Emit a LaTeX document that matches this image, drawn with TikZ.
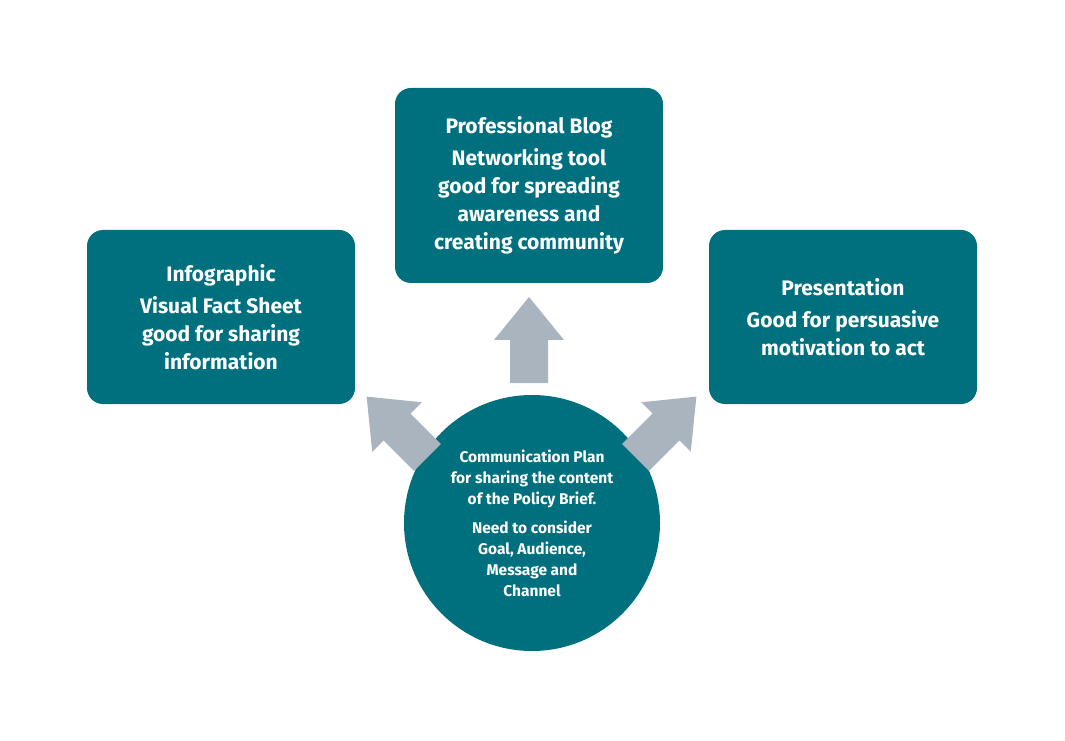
\documentclass[tikz,border=0pt]{standalone}
\usepackage{fontspec}
\setmainfont{Fira Sans}
\definecolor{teal}{HTML}{00707F}
\definecolor{arrgray}{HTML}{A9B4BE}
\begin{document}
\begin{tikzpicture}[x=1pt,y=1pt,
  box/.style={fill=teal,rounded corners=16pt,minimum width=268pt,text=white,font=\bfseries\fontsize{21}{28}\selectfont,align=center,inner sep=0pt},
  arr/.pic={\fill[arrgray] (-19,-43)--(19,-43)--(19,0)--(35,0)--(0,43)--(-35,0)--(-19,0)--cycle;}]
\useasboundingbox (0,0) rectangle (1065,740);
\node[box,minimum height=195pt] (blog) at (529,554.5) {Professional Blog\\[4pt]Networking tool\\good for spreading\\awareness and\\creating community};
\node[box,minimum height=174pt] (info) at (221,423) {Infographic\\[4pt]Visual Fact Sheet\\good for sharing\\information};
\node[box,minimum height=174pt] (pres) at (843,423) {Presentation\\[4pt]Good for persuasive\\motivation to act};
\node[circle,fill=teal,minimum size=256pt,text=white,align=center,inner sep=0pt,font=\bfseries\fontsize{15.5}{21}\selectfont] (plan) at (532,217) {Communication Plan\\for sharing the content\\of the Policy Brief.\\[8pt]Need to consider\\Goal, Audience,\\Message and\\Channel};
\pic at (529,400) {arr};
\pic[rotate=45] at (397,313) {arr};
\pic[rotate=-45] at (666,313) {arr};
\end{tikzpicture}
\end{document}
